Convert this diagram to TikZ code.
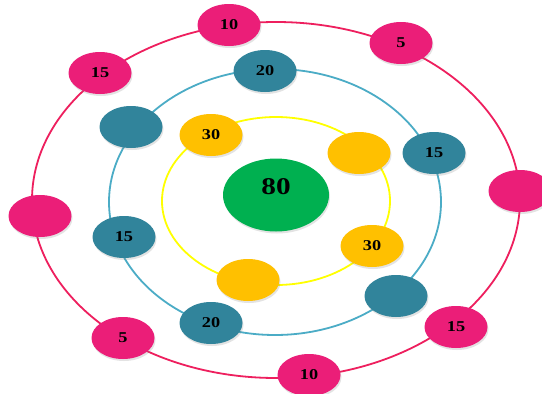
\documentclass[tikz,border=0pt]{standalone}
\usepackage{fontspec}
\setmainfont{Liberation Serif}
\usetikzlibrary{shapes.geometric,shadows}
\definecolor{pinkfill}{HTML}{EB1E78}
\definecolor{pinkring}{HTML}{EE1F5E}
\definecolor{tealfill}{HTML}{31849B}
\definecolor{tealring}{HTML}{4BACC6}
\definecolor{goldfill}{HTML}{FFC000}
\definecolor{yellowring}{HTML}{FFFF00}
\definecolor{greenfill}{HTML}{00B050}
% digits set slightly wide
\newcommand\widedigits[1]{\scalebox{1.22}[1]{#1}}
\tikzset{
  ring/.style={line width=1.8pt},
  dot/.style={ellipse, minimum width=63pt, minimum height=42pt, inner sep=0pt,
    font=\fontsize{15}{15}\selectfont\bfseries,
    drop shadow={opacity=0.22, shadow xshift=1pt, shadow yshift=-2pt}},
  pinkdot/.style={dot, fill=pinkfill},
  tealdot/.style={dot, fill=tealfill},
  golddot/.style={dot, fill=goldfill},
}
\begin{document}
\begin{tikzpicture}[x=1pt,y=-1pt]
\useasboundingbox (0,0) rectangle (542,394);
\fill[white] (0,0) rectangle (542,394);
% orbit rings
\draw[ring, pinkring]   (276,200) ellipse [x radius=244, y radius=178];
\draw[ring, tealring]   (275,202) ellipse [x radius=166, y radius=133];
\draw[ring, yellowring] (276,201) ellipse [x radius=114, y radius=84];
% centre
\node[ellipse, fill=greenfill, minimum width=106pt, minimum height=73pt,
  drop shadow={opacity=0.22, shadow xshift=1pt, shadow yshift=-2pt}] (core) at (276,195) {};
\node[font=\fontsize{24}{24}\selectfont\bfseries] (corelabel) at (276,187) {\widedigits{80}};
% inner ring
\node[golddot] (y1) at (211,135) {\widedigits{30}};
\node[golddot] (y2) at (359,153) {};
\node[golddot] (y3) at (372,246) {\widedigits{30}};
\node[golddot] (y4) at (248,280) {};
% middle ring
\node[tealdot] (t1) at (265,71)  {\widedigits{20}};
\node[tealdot] (t2) at (131,127) {};
\node[tealdot] (t3) at (434,153) {\widedigits{15}};
\node[tealdot] (t4) at (124,237) {\widedigits{15}};
\node[tealdot] (t5) at (211,323) {\widedigits{20}};
\node[tealdot] (t6) at (396,296) {};
% outer ring
\node[pinkdot] (p1) at (229,25)  {\widedigits{10}};
\node[pinkdot] (p2) at (401,43)  {\widedigits{5}};
\node[pinkdot] (p3) at (100,73)  {\widedigits{15}};
\node[pinkdot] (p4) at (40,216)  {};
\node[pinkdot] (p5) at (520,191) {};
\node[pinkdot] (p6) at (456,327) {\widedigits{15}};
\node[pinkdot] (p7) at (309,375) {\widedigits{10}};
\node[pinkdot] (p8) at (123,338) {\widedigits{5}};
\end{tikzpicture}
\end{document}
